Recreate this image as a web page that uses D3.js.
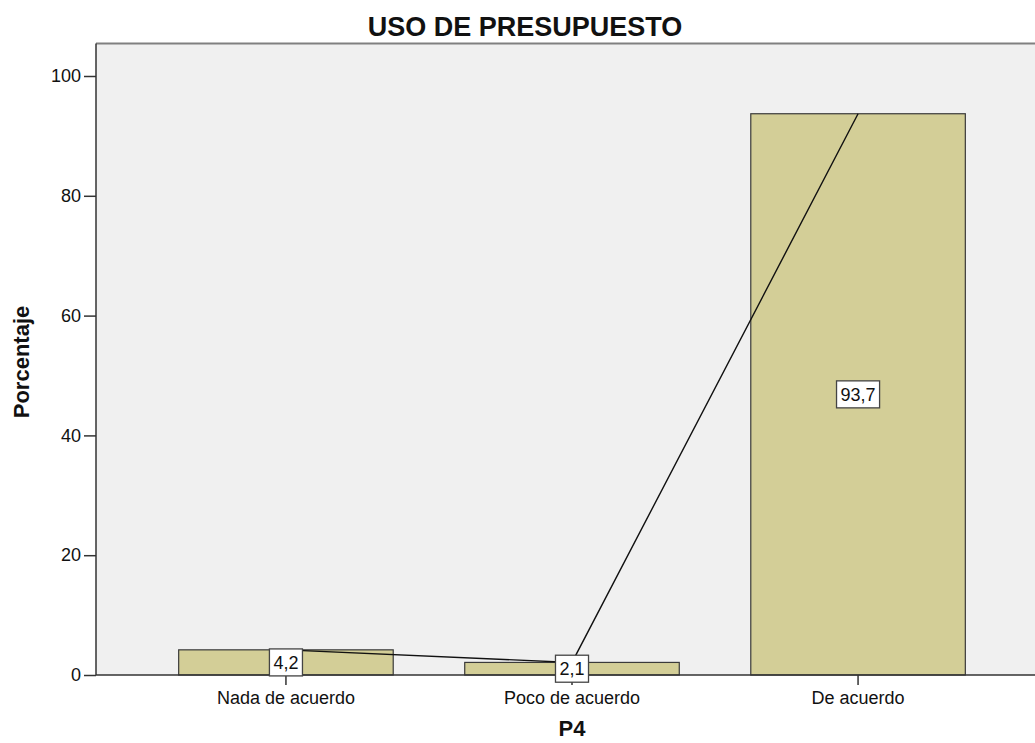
<!DOCTYPE html>
<html>
<head>
<meta charset="utf-8">
<script src="https://cdn.jsdelivr.net/npm/d3@7"></script>
<style>
  html, body { margin: 0; padding: 0; background: #fff; }
  svg { display: block; font-family: "Liberation Sans", Arial, sans-serif; }
</style>
</head>
<body>
<svg id="chart" width="1035" height="743"></svg>
<script>
// Frequency chart: P4 — USO DE PRESUPUESTO
const categories = ["Nada de acuerdo", "Poco de acuerdo", "De acuerdo"];
const percentages = [4.2, 2.1, 93.7];
const yTicks = [0, 20, 40, 60, 80, 100];
const chartTitle = "USO DE PRESUPUESTO";
const xTitle = "P4";
const yTitle = "Porcentaje";

const svg = d3.select("#chart");
const plot = { left: 96, right: 1048, top: 43.5, bottom: 675 };

const x = d3.scaleBand()
  .domain(categories)
  .range([plot.left, plot.right])
  .paddingInner(0.25)
  .paddingOuter(0.289);

const y = d3.scaleLinear()
  .domain([0, 100])
  .range([plot.bottom, 76]);

const fmt = v => d3.format(".1f")(v).replace(".", ",");

// plot background
svg.append("rect")
  .attr("x", plot.left).attr("y", plot.top)
  .attr("width", plot.right - plot.left)
  .attr("height", plot.bottom - plot.top)
  .attr("fill", "#f0f0f0");

// frame top edge
svg.append("line")
  .attr("x1", plot.left).attr("x2", plot.right)
  .attr("y1", plot.top).attr("y2", plot.top)
  .attr("stroke", "#808080").attr("stroke-width", 2);

// bars
svg.append("g").selectAll("rect")
  .data(categories)
  .join("rect")
  .attr("x", d => x(d))
  .attr("y", (d, i) => y(percentages[i]))
  .attr("width", x.bandwidth())
  .attr("height", (d, i) => y(0) - y(percentages[i]))
  .attr("fill", "#d3ce97")
  .attr("stroke", "#3a3a3a")
  .attr("stroke-width", 1.2);

// line through bar tops
const line = d3.line()
  .x(d => x(d.c) + x.bandwidth() / 2)
  .y(d => y(d.v));
svg.append("path")
  .datum(categories.map((c, i) => ({ c, v: percentages[i] })))
  .attr("d", line)
  .attr("fill", "none")
  .attr("stroke", "#111")
  .attr("stroke-width", 1.4);

// y axis
const yAxis = svg.append("g")
  .attr("transform", `translate(${plot.left},0)`)
  .call(d3.axisLeft(y).tickValues(yTicks).tickSize(12).tickPadding(3).tickSizeOuter(0));
yAxis.select(".domain").remove();
yAxis.append("line")
  .attr("x1", 0).attr("x2", 0)
  .attr("y1", plot.top).attr("y2", plot.bottom)
  .attr("stroke", "#333").attr("stroke-width", 1.5);
yAxis.selectAll(".tick line").attr("stroke", "#333").attr("stroke-width", 1.5);
yAxis.selectAll(".tick text")
  .attr("font-size", 18).attr("fill", "#111")
  .attr("font-family", "Liberation Sans, Arial, sans-serif");

// x axis
const xAxis = svg.append("g")
  .attr("transform", `translate(0,${plot.bottom})`)
  .call(d3.axisBottom(x).tickSize(10).tickPadding(6).tickSizeOuter(0));
xAxis.select(".domain").remove();
xAxis.append("line")
  .attr("x1", plot.left).attr("x2", plot.right)
  .attr("y1", 0).attr("y2", 0)
  .attr("stroke", "#333").attr("stroke-width", 1.5);
xAxis.selectAll(".tick line").attr("stroke", "#333").attr("stroke-width", 1.5);
xAxis.selectAll(".tick text")
  .attr("font-size", 18).attr("fill", "#111")
  .attr("font-family", "Liberation Sans, Arial, sans-serif");

// value labels in boxes
const labels = svg.append("g").selectAll("g")
  .data(categories)
  .join("g")
  .attr("transform", (d, i) =>
    `translate(${x(d) + x.bandwidth() / 2},${y(percentages[i] / 2)})`);
labels.each(function (d, i) {
  const g = d3.select(this);
  const t = g.append("text")
    .attr("text-anchor", "middle")
    .attr("dy", "0.35em")
    .attr("font-size", 18)
    .attr("fill", "#111")
    .text(fmt(percentages[i]));
  const w = t.node().getComputedTextLength() + 8;
  g.insert("rect", "text")
    .attr("x", -w / 2).attr("y", -13.5)
    .attr("width", w).attr("height", 27)
    .attr("fill", "#fff")
    .attr("stroke", "#444")
    .attr("stroke-width", 1.3);
});

// titles
svg.append("text")
  .attr("x", 525).attr("y", 36)
  .attr("text-anchor", "middle")
  .attr("font-size", 27).attr("font-weight", "bold").attr("fill", "#111")
  .text(chartTitle);

svg.append("text")
  .attr("x", x(categories[1]) + x.bandwidth() / 2).attr("y", 736)
  .attr("text-anchor", "middle")
  .attr("font-size", 22).attr("font-weight", "bold").attr("fill", "#111")
  .text(xTitle);

svg.append("text")
  .attr("transform", "translate(29,362) rotate(-90)")
  .attr("text-anchor", "middle")
  .attr("font-size", 22).attr("font-weight", "bold").attr("fill", "#111")
  .text(yTitle);
</script>
</body>
</html>
